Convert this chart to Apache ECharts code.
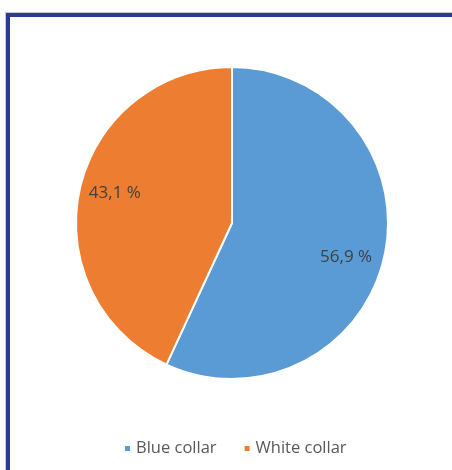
<!DOCTYPE html>
<html>
<head>
<meta charset="utf-8">
<script src="https://cdn.jsdelivr.net/npm/echarts@6/dist/echarts.min.js"></script>
<style>
  html, body { margin: 0; padding: 0; background: #fff; }
  #wrap { position: relative; width: 452px; height: 470px; overflow: hidden; }
  .frame {
    position: absolute; left: 5px; top: 12px; width: 460px; height: 480px;
    border-top: 1px solid #c9c9d4; border-left: 1px solid #c9c9d4;
  }
  .frame-inner {
    position: absolute; left: 6px; top: 13px; width: 460px; height: 480px;
    border-top: 4px solid #2b3a97; border-left: 4px solid #2b3a97;
  }
  #chart { position: absolute; left: 0; top: 0; width: 452px; height: 470px; }
</style>
</head>
<body>
<div id="wrap">
  <div class="frame"></div>
  <div class="frame-inner"></div>
  <div id="chart"></div>
</div>
<script>
const categories = ['Blue collar', 'White collar']
const shares = [56.9, 43.1]
const colors = ['#5b9bd5', '#ed7d31']
// small nudges so the labels sit where Excel put them
const labelNudge = [[-6, 8], [3, -3]]

const pieData = categories.map((name, i) => ({ name: name, value: shares[i] }))
const labelData = categories.map((name, i) => ({
  name: name,
  value: shares[i],
  label: { offset: labelNudge[i] }
}))

const chart = echarts.init(document.getElementById('chart'))
chart.setOption({
  animation: false,
  color: colors,
  legend: {
    bottom: 8,
    left: 118,
    icon: 'rect',
    itemWidth: 7,
    itemHeight: 7,
    itemGap: 26,
    textStyle: {
      color: '#595959',
      fontSize: 16.5,
      fontFamily: 'Open Sans'
    },
    data: categories
  },
  series: [
    {
      // the pie itself
      type: 'pie',
      center: [232, 223],
      radius: [0, 156],
      startAngle: 90,
      clockwise: true,
      label: { show: false },
      labelLine: { show: false },
      itemStyle: { borderColor: '#fff', borderWidth: 2 },
      emphasis: { disabled: true },
      data: pieData
    },
    {
      // invisible ring only used to place the labels
      type: 'pie',
      silent: true,
      center: [232, 223],
      radius: [88, 152],
      startAngle: 90,
      clockwise: true,
      itemStyle: { color: 'rgba(0,0,0,0)' },
      label: {
        show: true,
        position: 'inside',
        color: '#404040',
        fontSize: 17,
        fontFamily: 'Open Sans',
        formatter: p => String(p.value).replace('.', ',') + ' %'
      },
      labelLine: { show: false },
      emphasis: { disabled: true },
      data: labelData
    }
  ]
})
</script>
</body>
</html>
